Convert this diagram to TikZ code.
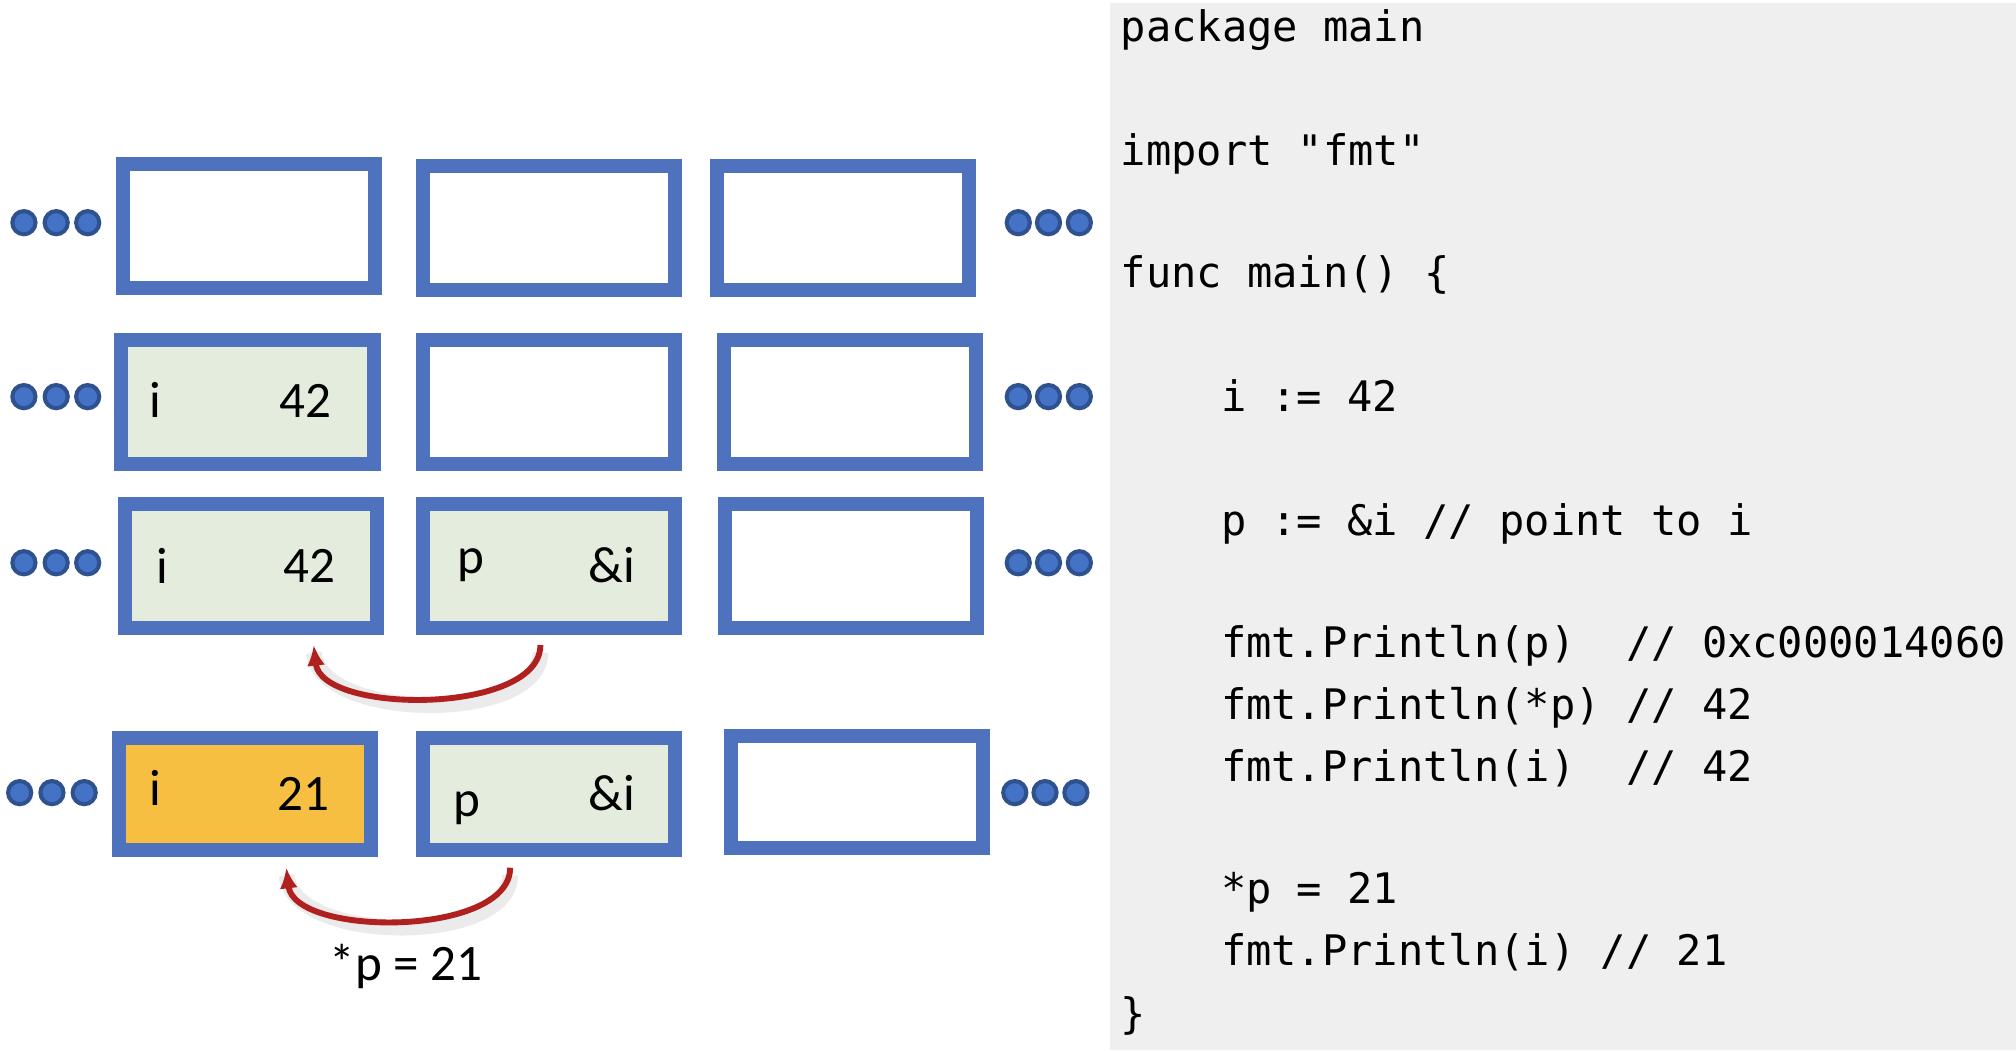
\documentclass[tikz,border=0pt]{standalone}
\usepackage{fontspec}
\setmainfont{Carlito}
\newfontfamily\codefont{DejaVu Sans Mono}
\usetikzlibrary{arrows.meta, positioning}

\definecolor{cellblue}{RGB}{79,114,190}
\definecolor{dotblue}{RGB}{68,114,196}
\definecolor{dotedge}{RGB}{47,82,143}
\definecolor{valgreen}{RGB}{228,237,221}
\definecolor{valgold}{RGB}{246,191,65}
\definecolor{ptrred}{RGB}{176,32,30}
\definecolor{codegray}{RGB}{239,239,239}

\begin{document}
\begin{tikzpicture}[x=0.01cm, y=-0.01cm,
    cell/.style={draw=cellblue, fill=white, line width=0.109cm, minimum width=1.96cm, minimum height=0.966cm, inner sep=0, outer sep=0},
    lowcell/.style={cell, minimum height=0.871cm},
    dot/.style={circle, draw=dotedge, fill=dotblue, line width=0.9pt, minimum size=0.18cm, inner sep=0},
    val/.style={anchor=base, inner sep=0, font=\fontsize{11.3}{13}\selectfont},
    code/.style={anchor=base west, inner sep=0, font=\codefont\fontsize{9.3}{11}\selectfont},
    ptr/.style={draw=ptrred, line width=1.3pt, -{Latex[length=1.6mm, width=1.4mm]}},
    ptrshade/.style={draw=black, opacity=0.08, line width=3.5pt}]
    \useasboundingbox (0,0) rectangle (1568,816.7);
    \fill[white] (0,0) rectangle (1568,816.7);
    \fill[codegray] (863,2) rectangle (1568,816.7);

    % memory rows
    \node[cell] (m11) at (193.8,175.7) {};
    \node[cell] (m12) at (427.2,177.2) {};
    \node[cell] (m13) at (655.9,177.2) {};

    \node[cell, fill=valgreen] (m21) at (192.5,312.6) {};
    \node[cell] (m22) at (427.2,312.6) {};
    \node[cell] (m23) at (660.8,312.6) {};

    \node[cell, fill=valgreen] (m31) at (195.2,440.1) {};
    \node[cell, fill=valgreen] (m32) at (427.2,440.1) {};
    \node[cell] (m33) at (662.1,440.1) {};

    \node[lowcell, fill=valgold] (m41) at (190.8,617.6) {};
    \node[lowcell, fill=valgreen] (m42) at (427.2,617.6) {};
    \node[lowcell] (m43) at (666.8,616) {};

    % ... on both sides
    \foreach \r/\y in {1/173.2, 2/308.5, 3/437.7} {
        \foreach \k/\x in {1/18.6, 2/43.7, 3/68.2}
            \node[dot] (dl\r\k) at (\x,\y) {};
        \foreach \k/\x in {1/792, 2/815.5, 3/839.5}
            \node[dot] (dr\r\k) at (\x,\y) {};
    }
    \foreach \k/\x in {1/15.3, 2/40.4, 3/65.5}
        \node[dot] (dl4\k) at (\x,616.5) {};
    \foreach \k/\x in {1/789.3, 2/812.8, 3/836.8}
        \node[dot] (dr4\k) at (\x,616.5) {};

    % values
    \node[val] (i2) at (121,324.7) {i};
    \node[val] (v2) at (237.4,324.7) {42};
    \node[val] (i3) at (126,454) {i};
    \node[val] (v3) at (240.7,452.8) {42};
    \node[val] (p3) at (366,445.9) {p};
    \node[val] (a3) at (476,452.8) {\&i};
    \node[val] (i4) at (121,626.6) {i};
    \node[val] (v4) at (236,630.5) {21};
    \node[val] (p4) at (363,635.2) {p};
    \node[val] (a4) at (476,630.5) {\&i};
    \node[val] (deref) at (316,762.8) {*p = 21};

    % pointer arrows
    \coordinate (from3) at (420.3,501.7);
    \coordinate (to3) at (244,501.7);
    \coordinate (from4) at (396.8,674.9);
    \coordinate (to4) at (222.7,674.9);
    \draw[ptrshade] ([yshift=-0.06cm]from3) .. controls ([yshift=-0.06cm]420.3,556) and ([yshift=-0.06cm]250,556) .. ([yshift=-0.06cm]to3);
    \draw[ptrshade] ([yshift=-0.06cm]from4) .. controls ([yshift=-0.06cm]396.8,729) and ([yshift=-0.06cm]229,729) .. ([yshift=-0.06cm]to4);
    \draw[ptr] (from3) .. controls (420.3,556) and (250,556) .. (to3);
    \draw[ptr] (from4) .. controls (396.8,729) and (229,729) .. (to4);

    % go source
    \node[code] (c1) at (871,32.4) {package main};
    \node[code] (c2) at (871,128.5) {import "fmt"};
    \node[code] (c3) at (871,224) {func main() \{};
    \node[code] (c4) at (949,320) {i := 42};
    \node[code] (c5) at (949,416.5) {p := \&i // point to i};
    \node[code] (c6) at (949,511.5) {fmt.Println(p)~~// 0xc000014060};
    \node[code] (c7) at (949,559.5) {fmt.Println(*p) // 42};
    \node[code] (c8) at (949,607.5) {fmt.Println(i)~~// 42};
    \node[code] (c9) at (949,703) {*p = 21};
    \node[code] (c10) at (949,751) {fmt.Println(i) // 21};
    \node[code] (c11) at (871,800) {\}};
\end{tikzpicture}
\end{document}
